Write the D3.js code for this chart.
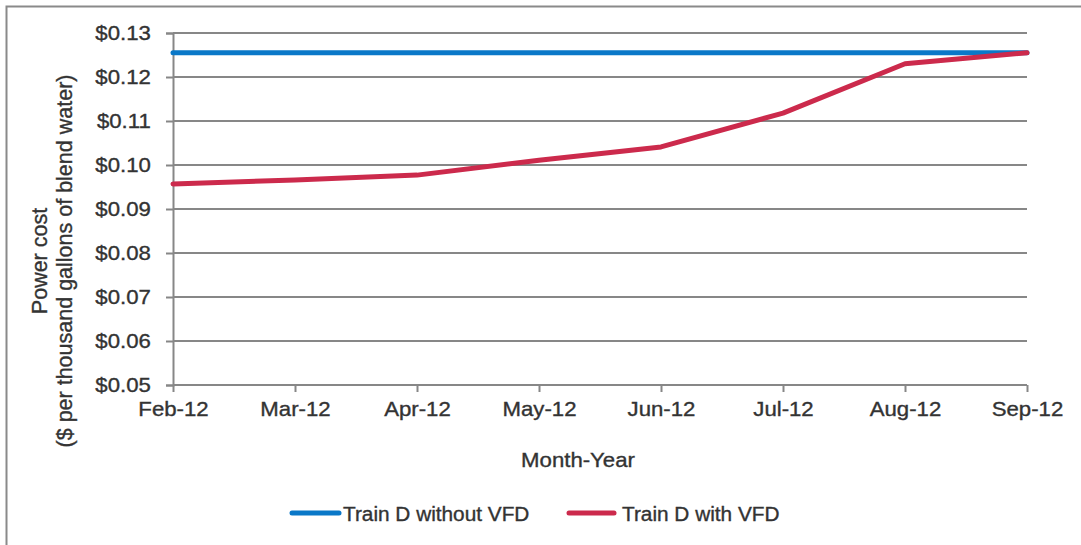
<!DOCTYPE html>
<html>
<head>
<meta charset="utf-8">
<script src="https://cdn.jsdelivr.net/npm/d3@7"></script>
<style>
  html, body { margin: 0; padding: 0; background: #fff; }
  svg { display: block; font-family: "Liberation Sans", Arial, sans-serif; }
  svg text { stroke: #333; stroke-width: 0.35px; }
</style>
</head>
<body>
<svg id="chart" width="1081" height="545"></svg>
<script>
// Monthly categories along the x axis
const months = ["Feb-12", "Mar-12", "Apr-12", "May-12", "Jun-12", "Jul-12", "Aug-12", "Sep-12"];
// Power cost ($ per thousand gallons of blend water)
const withoutVFD = [0.1255, 0.1255, 0.1255, 0.1255, 0.1255, 0.1255, 0.1255, 0.1255];
const withVFD = [0.0957, 0.0966, 0.0977, 0.1011, 0.1041, 0.1118, 0.1230, 0.1255];
// Y-axis tick values
const yTicks = [0.05, 0.06, 0.07, 0.08, 0.09, 0.10, 0.11, 0.12, 0.13];
const seriesNames = ["Train D without VFD", "Train D with VFD"];
const seriesColors = ["#0a78c8", "#cc2a4c"];

const svg = d3.select("#chart");
const textColor = "#333";
const gridColor = "#878787";
const sx = 1.11; // horizontal glyph stretch

const x = d3.scalePoint().domain(months).range([173, 1027]);
const y = d3.scaleLinear().domain([0.05, 0.13]).range([385, 33]);

// Outer frame (right and bottom edges fall outside the view)
svg.append("rect")
  .attr("x", 6.5).attr("y", 6.5).attr("width", 1200).attr("height", 1000)
  .attr("fill", "none").attr("stroke", "#8a8a8a").attr("stroke-width", 2);

// Horizontal gridlines
svg.append("g").selectAll("line").data(yTicks.slice(1)).join("line")
  .attr("x1", 173).attr("x2", 1027)
  .attr("y1", d => y(d)).attr("y2", d => y(d))
  .attr("stroke", gridColor).attr("stroke-width", 2);

// Y axis
const yAxis = svg.append("g").attr("transform", "translate(173,0)")
  .call(d3.axisLeft(y).tickValues(yTicks).tickFormat(d3.format("$.2f")).tickSize(7).tickPadding(13));
yAxis.select(".domain").attr("stroke", gridColor).attr("stroke-width", 2);
yAxis.selectAll(".tick line").attr("stroke", gridColor).attr("stroke-width", 2);
yAxis.selectAll(".tick text")
  .attr("fill", textColor).attr("font-size", 20)
  .attr("font-family", "Liberation Sans, Arial, sans-serif")
  .attr("transform", `scale(${sx},1)`);

// X axis
const xAxis = svg.append("g").attr("transform", "translate(0,385)")
  .call(d3.axisBottom(x).tickSize(7).tickPadding(10));
xAxis.select(".domain").attr("stroke", gridColor).attr("stroke-width", 2)
  .attr("d", `M173,0H1027`);
xAxis.selectAll(".tick line").attr("stroke", gridColor).attr("stroke-width", 2);
xAxis.selectAll(".tick text")
  .attr("fill", textColor).attr("font-size", 20)
  .attr("font-family", "Liberation Sans, Arial, sans-serif")
  .attr("transform", `scale(${sx},1)`);

// Series lines
const line = d3.line().x((d, i) => x(months[i])).y(d => y(d));
[withoutVFD, withVFD].forEach((vals, k) => {
  svg.append("path").datum(vals)
    .attr("d", line)
    .attr("fill", "none")
    .attr("stroke", seriesColors[k])
    .attr("stroke-width", 5)
    .attr("stroke-linejoin", "round")
    .attr("stroke-linecap", "round");
});

// Axis titles
svg.append("text")
  .attr("transform", `translate(578,467) scale(${sx},1)`)
  .attr("text-anchor", "middle")
  .attr("font-size", 20).attr("fill", textColor)
  .text("Month-Year");

const yTitle = svg.append("g").attr("transform", "translate(0,261)");
yTitle.append("text")
  .attr("transform", "translate(47,0) rotate(-90)")
  .attr("text-anchor", "middle")
  .attr("font-size", 21.5).attr("fill", textColor)
  .text("Power cost");
yTitle.append("text")
  .attr("transform", "translate(72,0) rotate(-90)")
  .attr("text-anchor", "middle")
  .attr("font-size", 21.5).attr("fill", textColor)
  .text("($ per thousand gallons of blend water)");

// Legend
const legendItems = [
  { name: seriesNames[0], color: seriesColors[0], x0: 292, x1: 339, tx: 343 },
  { name: seriesNames[1], color: seriesColors[1], x0: 569, x1: 614, tx: 622 }
];
const legend = svg.append("g").attr("transform", "translate(0,513)");
legendItems.forEach(it => {
  legend.append("line")
    .attr("x1", it.x0).attr("x2", it.x1).attr("y1", 0).attr("y2", 0)
    .attr("stroke", it.color).attr("stroke-width", 5).attr("stroke-linecap", "round");
  legend.append("text")
    .attr("transform", `translate(${it.tx},7.5) scale(1.04,1)`)
    .attr("font-size", 20).attr("fill", textColor)
    .text(it.name);
});
</script>
</body>
</html>
